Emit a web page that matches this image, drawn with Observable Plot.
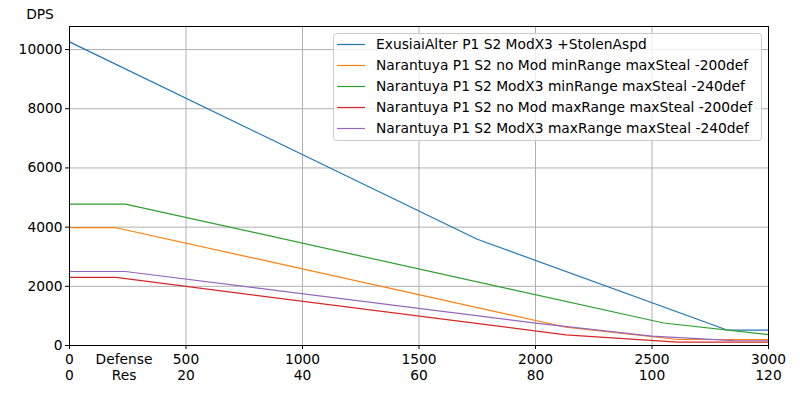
<!DOCTYPE html>
<html><head><meta charset="utf-8">
<script src="https://cdn.jsdelivr.net/npm/d3@7"></script>
<script src="https://cdn.jsdelivr.net/npm/@observablehq/plot@0.6"></script>
<style>
body{margin:0;background:#fff;}
#chart svg{display:block;font-family:"DejaVu Sans",sans-serif;}
</style>
</head><body><div id="chart"></div>
<script>
const seriesNames = [
  "ExusiaiAlter P1 S2 ModX3 +StolenAspd",
  "Narantuya P1 S2 no Mod minRange maxSteal -200def",
  "Narantuya P1 S2 ModX3 minRange maxSteal -240def",
  "Narantuya P1 S2 no Mod maxRange maxSteal -200def",
  "Narantuya P1 S2 ModX3 maxRange maxSteal -240def"
];
const seriesColors = ["#1f77b4","#ff7f0e","#2ca02c","#d62728","#9467bd"];

const exusiaiDef = [0, 1750, 2825, 3000];
const exusiaiDps = [10260, 3590, 517, 517];
const narNoModMinDef = [0, 200, 2000, 2130, 2610, 3000];
const narNoModMinDps = [3980, 3980, 845, 620, 203, 203];
const narModMinDef = [0, 240, 2550, 3000];
const narModMinDps = [4780, 4780, 760, 365];
const narNoModMaxDef = [0, 200, 2130, 2610, 3000];
const narNoModMaxDps = [2300, 2300, 361, 115, 115];
const narModMaxDef = [0, 240, 2000, 2500, 2850, 3000];
const narModMaxDps = [2500, 2500, 754, 320, 165, 160];

const xTicks = [0, 500, 1000, 1500, 2000, 2500, 3000];
const resTicks = [0, 20, 40, 60, 80, 100, 120];
const yTicks = [0, 2000, 4000, 6000, 8000, 10000];

const seriesDef = [exusiaiDef, narNoModMinDef, narModMinDef, narNoModMaxDef, narModMaxDef];
const seriesDps = [exusiaiDps, narNoModMinDps, narModMinDps, narNoModMaxDps, narModMaxDps];
const rows = seriesNames.flatMap((name, i) =>
  seriesDef[i].map((d, j) => ({series: name, def: d, dps: seriesDps[i][j]})));

const font = "DejaVu Sans, sans-serif";
const fs = 13.8;
const chart = Plot.plot({
  width: 800, height: 400,
  marginLeft: 69, marginRight: 32, marginTop: 26, marginBottom: 55,
  style: {fontFamily: font, fontSize: fs + "px", color: "#000", background: "#fff"},
  x: {domain: [0, 3000]},
  y: {domain: [0, 10780]},
  color: {domain: seriesNames, range: seriesColors},
  marks: [
    Plot.gridX(xTicks, {stroke: "#b0b0b0", strokeOpacity: 1, strokeWidth: 1}),
    Plot.gridY(yTicks, {stroke: "#b0b0b0", strokeOpacity: 1, strokeWidth: 1}),
    Plot.line(rows, {x: "def", y: "dps", z: "series", stroke: "series", strokeWidth: 1.2}),
    Plot.frame({stroke: "#000", strokeWidth: 1}),
    Plot.axisX(xTicks, {tickSize: 4, tickPadding: 3, label: null, fontSize: fs, lineHeight: 1.17,
      tickFormat: d => `${d}\n${resTicks[xTicks.indexOf(d)]}`}),
    Plot.axisY(yTicks, {tickSize: 4, tickPadding: 3, label: null, fontSize: fs, tickFormat: d => `${d}`})
  ]
});
document.getElementById("chart").appendChild(chart);

const svg = d3.select(chart);
svg.append("text").attr("x", 40).attr("y", 15).attr("text-anchor", "middle")
  .attr("dominant-baseline", "middle").attr("font-size", fs).attr("font-family", font).text("DPS");
svg.append("text").attr("x", 124).attr("y", 360).attr("text-anchor", "middle")
  .attr("dominant-baseline", "middle").attr("font-size", fs).attr("font-family", font).text("Defense");
svg.append("text").attr("x", 124).attr("y", 376).attr("text-anchor", "middle")
  .attr("dominant-baseline", "middle").attr("font-size", fs).attr("font-family", font).text("Res");

const lg = svg.append("g");
lg.append("rect").attr("x", 333.5).attr("y", 33.5).attr("width", 428).attr("height", 107)
  .attr("rx", 3).attr("fill", "#fff").attr("fill-opacity", 0.8).attr("stroke", "#cccccc");
seriesNames.forEach((name, i) => {
  const y = Math.round(44 + i * 21.1) + 0.5;
  lg.append("line").attr("x1", 337).attr("x2", 365).attr("y1", y).attr("y2", y)
    .attr("stroke", seriesColors[i]).attr("stroke-width", 1.2);
  lg.append("text").attr("x", 376).attr("y", y).attr("text-anchor", "start")
    .attr("dominant-baseline", "middle")
    .attr("font-size", fs).attr("font-family", font).text(name);
});
</script>
</body></html>
